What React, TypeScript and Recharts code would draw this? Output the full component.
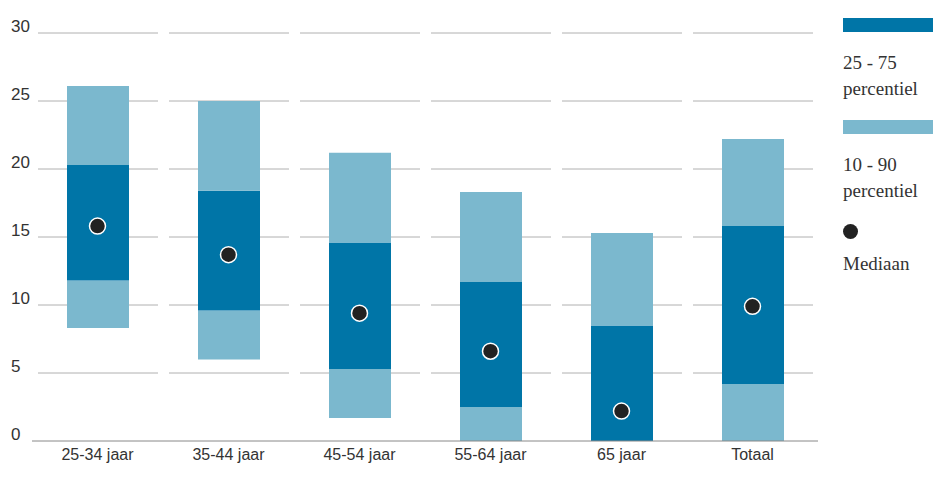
import { ComposedChart, Bar, Scatter, XAxis, YAxis } from "recharts";

const categories = ["25-34 jaar", "35-44 jaar", "45-54 jaar", "55-64 jaar", "65 jaar", "Totaal"];
const p10 = [8.3, 6.0, 1.7, 0, 0, 0];
const p25 = [11.8, 9.6, 5.3, 2.5, 0, 4.2];
const p75 = [20.3, 18.4, 14.6, 11.7, 8.5, 15.8];
const p90 = [26.1, 25.0, 21.2, 18.3, 15.3, 22.2];
const median = [15.8, 13.7, 9.4, 6.6, 2.2, 9.9];
const yTicks = [0, 5, 10, 15, 20, 25, 30];

const DARK = "#0075a7";
const LIGHT = "#7bb8ce";

const data = categories.map((name, i) => ({
  name,
  base: p10[i],
  lowBand: p25[i] - p10[i],
  midBand: p75[i] - p25[i],
  highBand: p90[i] - p75[i],
  median: median[i],
  grid: 30,
}));

const GridShape = (props: any) => {
  const { x, y, width, height } = props;
  return (
    <g>
      {yTicks.slice(1).map((t) => {
        const yy = y + height * (1 - t / 30);
        return <line key={t} x1={x} x2={x + width} y1={yy} y2={yy} stroke="#b0b0b0" strokeWidth={1} />;
      })}
    </g>
  );
};

const Dot = (props: any) => (
  <circle cx={props.cx} cy={props.cy} r={8} fill="#222" stroke="#fff" strokeWidth={1.5} />
);

const FONT = "'Liberation Sans', Arial, sans-serif";

const YTick = (props: any) => (
  <text x={3} y={props.y - 1} fontSize={17} fill="#333" fontFamily={FONT}>
    {props.payload.value}
  </text>
);

const legendText = { fontFamily: "'Liberation Serif', serif", fontSize: 19, color: "#333", lineHeight: "26px" };

export default function App() {
  return (
    <div style={{ position: "relative", width: 925, height: 470 }}>
      <ComposedChart width={830} height={470} data={data} margin={{ top: 25, right: 20, bottom: 7, left: 0 }}>
        <XAxis xAxisId="grid" dataKey="name" hide />
        <XAxis
          dataKey="name"
          height={30}
          tickLine={false}
          axisLine={{ stroke: "#888" }}
          tick={{ fill: "#333", fontFamily: FONT, fontSize: 16 }}
        />
        <YAxis width={24} domain={[0, 30]} ticks={yTicks} tickLine={false} axisLine={false} tick={<YTick />} />
        <Bar xAxisId="grid" dataKey="grid" barSize={120} shape={<GridShape />} isAnimationActive={false} />
        <Bar dataKey="base" stackId="a" fill="transparent" barSize={62} isAnimationActive={false} />
        <Bar dataKey="lowBand" stackId="a" fill={LIGHT} barSize={62} isAnimationActive={false} />
        <Bar dataKey="midBand" stackId="a" fill={DARK} barSize={62} isAnimationActive={false} />
        <Bar dataKey="highBand" stackId="a" fill={LIGHT} barSize={62} isAnimationActive={false} />
        <Scatter dataKey="median" shape={<Dot />} isAnimationActive={false} />
      </ComposedChart>
      <div style={{ position: "absolute", left: 835, top: 10, width: 100 }}>
        <div style={{ width: 90, height: 14, background: DARK }} />
        <div style={{ ...legendText, marginTop: 18 }}>25 - 75<br />percentiel</div>
        <div style={{ width: 90, height: 14, background: LIGHT, marginTop: 18 }} />
        <div style={{ ...legendText, marginTop: 18 }}>10 - 90<br />percentiel</div>
        <div style={{ width: 15, height: 15, borderRadius: "50%", background: "#222", marginTop: 20 }} />
        <div style={{ ...legendText, marginTop: 12 }}>Mediaan</div>
      </div>
    </div>
  );
}
